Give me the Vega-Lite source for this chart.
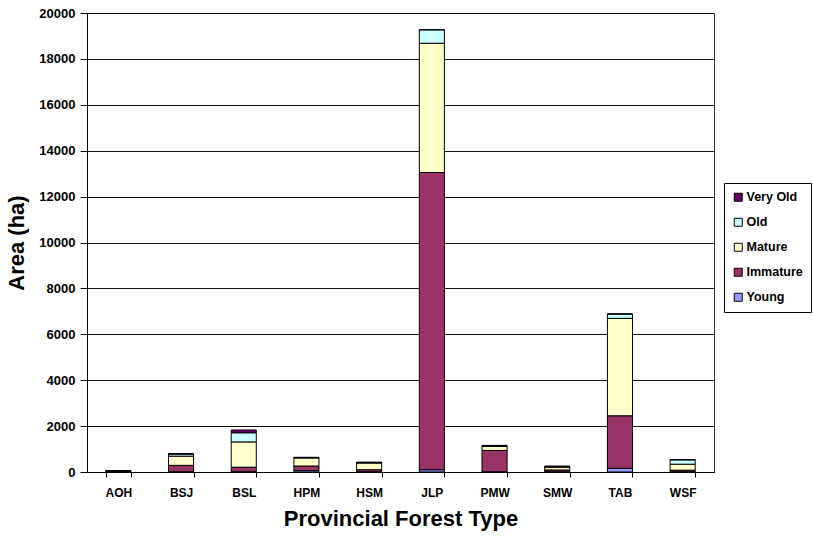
{
  "$schema": "https://vega.github.io/schema/vega-lite/v6.json",
  "autosize": "none",
  "width": 627,
  "height": 459,
  "padding": {"left": 87, "top": 13, "right": 99, "bottom": 64},
  "background": "white",
  "config": {
    "font": "Liberation Sans",
    "view": {"stroke": "#333333", "strokeWidth": 1},
    "axis": {
      "labelFont": "Liberation Sans",
      "labelFontWeight": "bold",
      "labelColor": "black",
      "titleFont": "Liberation Sans",
      "titleFontWeight": "bold",
      "titleColor": "black",
      "domainColor": "black",
      "tickColor": "black"
    }
  },
  "data": {
    "values": [
      {"type": "AOH", "age": "Young", "rank": 1, "area": 0},
      {"type": "AOH", "age": "Immature", "rank": 2, "area": 30},
      {"type": "AOH", "age": "Mature", "rank": 3, "area": 20},
      {"type": "AOH", "age": "Old", "rank": 4, "area": 0},
      {"type": "AOH", "age": "Very Old", "rank": 5, "area": 10},
      {"type": "BSJ", "age": "Young", "rank": 1, "area": 10},
      {"type": "BSJ", "age": "Immature", "rank": 2, "area": 280},
      {"type": "BSJ", "age": "Mature", "rank": 3, "area": 400},
      {"type": "BSJ", "age": "Old", "rank": 4, "area": 90},
      {"type": "BSJ", "age": "Very Old", "rank": 5, "area": 20},
      {"type": "BSL", "age": "Young", "rank": 1, "area": 10},
      {"type": "BSL", "age": "Immature", "rank": 2, "area": 200},
      {"type": "BSL", "age": "Mature", "rank": 3, "area": 1100},
      {"type": "BSL", "age": "Old", "rank": 4, "area": 400},
      {"type": "BSL", "age": "Very Old", "rank": 5, "area": 120},
      {"type": "HPM", "age": "Young", "rank": 1, "area": 60},
      {"type": "HPM", "age": "Immature", "rank": 2, "area": 200},
      {"type": "HPM", "age": "Mature", "rank": 3, "area": 360},
      {"type": "HPM", "age": "Old", "rank": 4, "area": 0},
      {"type": "HPM", "age": "Very Old", "rank": 5, "area": 20},
      {"type": "HSM", "age": "Young", "rank": 1, "area": 10},
      {"type": "HSM", "age": "Immature", "rank": 2, "area": 90},
      {"type": "HSM", "age": "Mature", "rank": 3, "area": 300},
      {"type": "HSM", "age": "Old", "rank": 4, "area": 0},
      {"type": "HSM", "age": "Very Old", "rank": 5, "area": 30},
      {"type": "JLP", "age": "Young", "rank": 1, "area": 100},
      {"type": "JLP", "age": "Immature", "rank": 2, "area": 12950},
      {"type": "JLP", "age": "Mature", "rank": 3, "area": 5630},
      {"type": "JLP", "age": "Old", "rank": 4, "area": 590},
      {"type": "JLP", "age": "Very Old", "rank": 5, "area": 0},
      {"type": "PMW", "age": "Young", "rank": 1, "area": 10},
      {"type": "PMW", "age": "Immature", "rank": 2, "area": 930},
      {"type": "PMW", "age": "Mature", "rank": 3, "area": 190},
      {"type": "PMW", "age": "Old", "rank": 4, "area": 0},
      {"type": "PMW", "age": "Very Old", "rank": 5, "area": 30},
      {"type": "SMW", "age": "Young", "rank": 1, "area": 10},
      {"type": "SMW", "age": "Immature", "rank": 2, "area": 80},
      {"type": "SMW", "age": "Mature", "rank": 3, "area": 130},
      {"type": "SMW", "age": "Old", "rank": 4, "area": 0},
      {"type": "SMW", "age": "Very Old", "rank": 5, "area": 40},
      {"type": "TAB", "age": "Young", "rank": 1, "area": 160},
      {"type": "TAB", "age": "Immature", "rank": 2, "area": 2290},
      {"type": "TAB", "age": "Mature", "rank": 3, "area": 4245},
      {"type": "TAB", "age": "Old", "rank": 4, "area": 190},
      {"type": "TAB", "age": "Very Old", "rank": 5, "area": 0},
      {"type": "WSF", "age": "Young", "rank": 1, "area": 10},
      {"type": "WSF", "age": "Immature", "rank": 2, "area": 70},
      {"type": "WSF", "age": "Mature", "rank": 3, "area": 260},
      {"type": "WSF", "age": "Old", "rank": 4, "area": 190},
      {"type": "WSF", "age": "Very Old", "rank": 5, "area": 10}
    ]
  },
  "mark": {"type": "bar", "stroke": "black", "strokeWidth": 1},
  "encoding": {
    "x": {
      "field": "type",
      "type": "nominal",
      "sort": null,
      "scale": {"paddingInner": 0.6, "paddingOuter": 0.3},
      "axis": {
        "title": "Provincial Forest Type",
        "titleFontSize": 22,
        "titlePadding": 10,
        "labelAngle": 0,
        "labelFontSize": 12,
        "labelPadding": 10,
        "tickBand": "extent",
        "tickSize": 5,
        "grid": false
      }
    },
    "y": {
      "field": "area",
      "type": "quantitative",
      "stack": "zero",
      "scale": {"domain": [0, 20000], "nice": false},
      "axis": {
        "title": "Area (ha)",
        "titleFontSize": 22,
        "titlePadding": 10,
        "values": [0, 2000, 4000, 6000, 8000, 10000, 12000, 14000, 16000, 18000, 20000],
        "format": "d",
        "labelFontSize": 13,
        "labelPadding": 5,
        "tickSize": 7,
        "grid": true,
        "gridColor": "#111111",
        "gridOpacity": 1
      }
    },
    "color": {
      "field": "age",
      "type": "nominal",
      "scale": {
        "domain": ["Very Old", "Old", "Mature", "Immature", "Young"],
        "range": ["#660066", "#CCFFFF", "#FFFFCC", "#993366", "#9999FF"]
      },
      "legend": {
        "title": null,
        "orient": "none",
        "legendX": 637,
        "legendY": 170,
        "strokeColor": "black",
        "padding": 8,
        "rowPadding": 12,
        "symbolType": "square",
        "symbolSize": 64,
        "symbolStrokeColor": "black",
        "symbolStrokeWidth": 1,
        "labelFont": "Liberation Sans",
        "labelFontWeight": "bold",
        "labelFontSize": 12.5,
        "labelColor": "black",
        "labelOffset": 2
      }
    },
    "order": {"field": "rank", "type": "quantitative", "sort": "ascending"}
  }
}
